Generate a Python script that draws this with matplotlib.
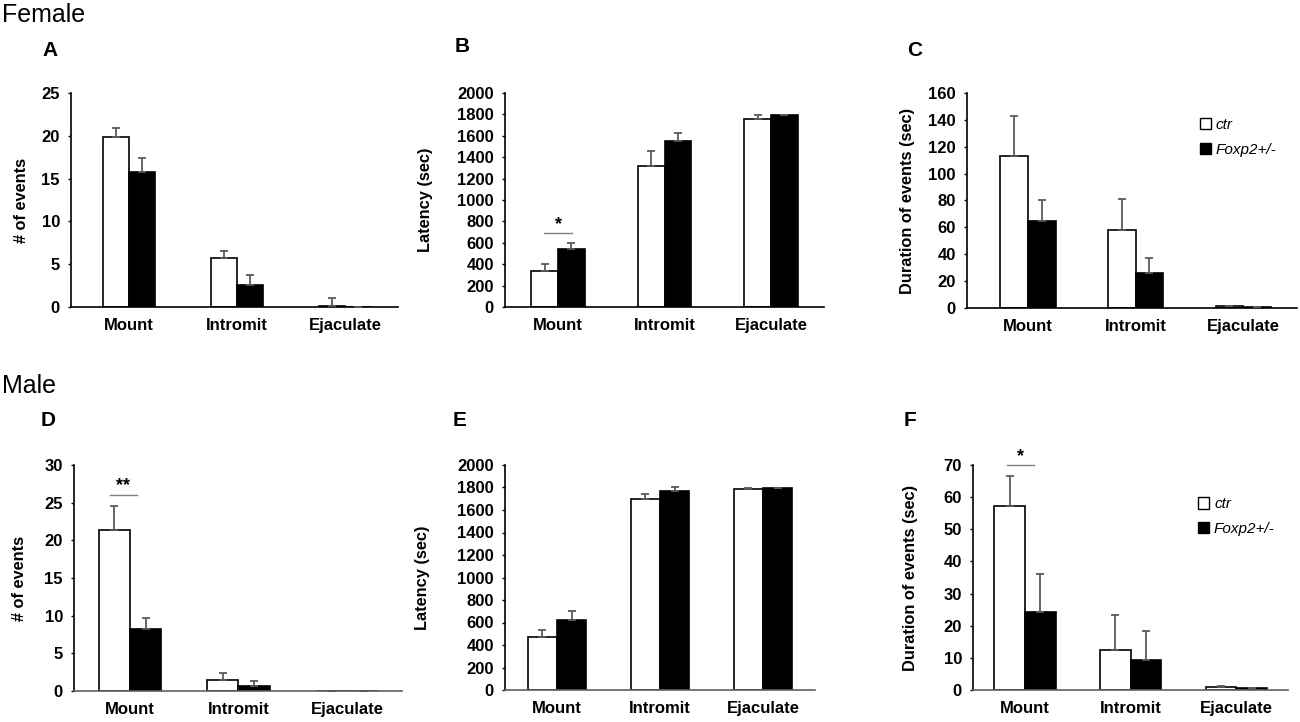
import matplotlib
matplotlib.use('Agg')
import matplotlib.pyplot as plt
from matplotlib.patches import Patch

plt.rcParams['font.family'] = ['Liberation Sans', 'DejaVu Sans']

# data
categories = ['Mount', 'Intromit', 'Ejaculate']
groups = ['ctr', 'Foxp2+/-']

# female
count_f_ctr = [19.9, 5.7, 0.1]
count_f_ctr_err = [1.0, 0.9, 1.0]
count_f_fox = [15.8, 2.6, 0.05]
count_f_fox_err = [1.6, 1.1, 0.0]

lat_f_ctr = [340, 1320, 1760]
lat_f_ctr_err = [60, 140, 30]
lat_f_fox = [540, 1550, 1790]
lat_f_fox_err = [60, 80, 5]

dur_f_ctr = [113, 58, 1.2]
dur_f_ctr_err = [30, 23, 0.3]
dur_f_fox = [65, 26, 0.8]
dur_f_fox_err = [15, 11, 0.2]

# male
count_m_ctr = [21.4, 1.4, 0.0]
count_m_ctr_err = [3.2, 1.0, 0.0]
count_m_fox = [8.2, 0.7, 0.0]
count_m_fox_err = [1.5, 0.6, 0.0]

lat_m_ctr = [475, 1695, 1790]
lat_m_ctr_err = [55, 50, 5]
lat_m_fox = [625, 1765, 1795]
lat_m_fox_err = [80, 35, 3]

dur_m_ctr = [57.4, 12.3, 1.0]
dur_m_ctr_err = [9.1, 10.9, 0.3]
dur_m_fox = [24.3, 9.3, 0.5]
dur_m_fox_err = [11.7, 9.1, 0.2]

W, H = 1300, 722
fig = plt.figure(figsize=(W / 100, H / 100), dpi=100)


def make_axes(x0, x1, y0, y1):
    # pixel box (from top-left) -> figure fraction
    return fig.add_axes([x0 / W, 1 - y1 / H, (x1 - x0) / W, (y1 - y0) / H])


def panel(box, letter, letter_xy, ylabel, ylabel_x, ymax, ystep, xlim, bw,
          ctr, ctr_err, fox, fox_err, sig=None, legend=None, xcolor='#333333'):
    ax = make_axes(*box)
    xs = range(len(categories))
    x_ctr = [x - bw / 2 for x in xs]
    x_fox = [x + bw / 2 for x in xs]
    ax.bar(x_ctr, ctr, bw, color='white', edgecolor='black', linewidth=1.2,
           zorder=2)
    ax.bar(x_fox, fox, bw, color='black', edgecolor='black', linewidth=1.2,
           zorder=2)
    # upper error bars only
    err_kw = dict(fmt='none', ecolor='#5a5a5a', elinewidth=1.3, capsize=2.8,
                  capthick=1.3, zorder=3)
    ax.errorbar(x_ctr, ctr, yerr=[[0] * 3, ctr_err], **err_kw)
    ax.errorbar(x_fox, fox, yerr=[[0] * 3, fox_err], **err_kw)

    ax.set_xlim(*xlim)
    ax.set_ylim(0, ymax)
    ax.set_yticks(range(0, ymax + 1, ystep))
    ax.set_xticks(list(xs))
    ax.set_xticklabels(categories, fontsize=12, fontweight='bold')
    ax.tick_params(axis='x', length=0, pad=8)
    ax.tick_params(axis='y', direction='out', length=2.5, width=1, pad=5.5,
                   labelsize=12)
    for lab in ax.get_yticklabels():
        lab.set_fontweight('bold')
    for s in ['top', 'right']:
        ax.spines[s].set_visible(False)
    ax.spines['left'].set_linewidth(1.2)
    ax.spines['bottom'].set_linewidth(1.2)
    ax.spines['bottom'].set_color(xcolor)

    # y label at a fixed pixel x
    ax.set_ylabel(ylabel, fontsize=11.8, fontweight='bold')
    ax.yaxis.set_label_coords((ylabel_x - box[0]) / (box[1] - box[0]), 0.5)

    fig.text(letter_xy[0] / W, 1 - letter_xy[1] / H, letter, fontsize=15,
             fontweight='bold', ha='center', va='center')

    if sig is not None:
        x0, x1, y_line, y_star, stars = sig
        ax.plot([x0, x1], [y_line, y_line], color='#808080', lw=1,
                clip_on=False)
        ax.text((x0 + x1) / 2, y_star, stars, ha='center', va='center',
                fontsize=13, fontweight='bold', clip_on=False)

    if legend is not None:
        handles = [Patch(facecolor='white', edgecolor='black', lw=1),
                   Patch(facecolor='black', edgecolor='black', lw=1)]
        ax.legend(handles, groups, loc='upper left', bbox_to_anchor=legend,
                  frameon=False, handlelength=0.75, handleheight=0.75,
                  handletextpad=0.3, labelspacing=0.7, borderpad=0,
                  prop=dict(style='italic', size=11))
    return ax


fig.text(2 / W, 1 - 15 / H, 'Female', fontsize=18, ha='left', va='center')
fig.text(2 / W, 1 - 386 / H, 'Male', fontsize=18, ha='left', va='center')

panel((71, 398, 93, 307), 'A', (50, 51), '# of events', 29, 25, 5,
      (-0.537, 2.49), 0.24, count_f_ctr, count_f_ctr_err, count_f_fox,
      count_f_fox_err, xcolor='black')
panel((505, 824, 93, 307), 'B', (462, 47), 'Latency (sec)', 433, 2000, 200,
      (-0.498, 2.498), 0.25, lat_f_ctr, lat_f_ctr_err, lat_f_fox,
      lat_f_fox_err, sig=(-0.13, 0.13, 690, 770, '*'), xcolor='black')
panel((967, 1297, 93, 308), 'C', (915, 50), 'Duration of events (sec)', 915,
      160, 20, (-0.567, 2.50), 0.256, dur_f_ctr, dur_f_ctr_err, dur_f_fox,
      dur_f_fox_err, legend=(0.682, 0.92), xcolor='black')

panel((74, 402, 465, 691), 'D', (48, 421), '# of events', 27, 30, 5,
      (-0.516, 2.507), 0.29, count_m_ctr, count_m_ctr_err, count_m_fox,
      count_m_fox_err, sig=(-0.185, 0.065, 26.0, 27.3, '**'),
      xcolor='#606060')
panel((505, 815, 465, 690), 'E', (460, 421), 'Latency (sec)', 430, 2000, 200,
      (-0.505, 2.505), 0.286, lat_m_ctr, lat_m_ctr_err, lat_m_fox,
      lat_m_fox_err, xcolor='#606060')
panel((973, 1288, 465, 690), 'F', (910, 421), 'Duration of events (sec)', 918,
      70, 10, (-0.493, 2.49), 0.29, dur_m_ctr, dur_m_ctr_err, dur_m_fox,
      dur_m_fox_err, sig=(-0.17, 0.085, 70.1, 72.6, '*'),
      legend=(0.69, 0.89), xcolor='#606060')

fig.savefig('out.png', dpi=100)
